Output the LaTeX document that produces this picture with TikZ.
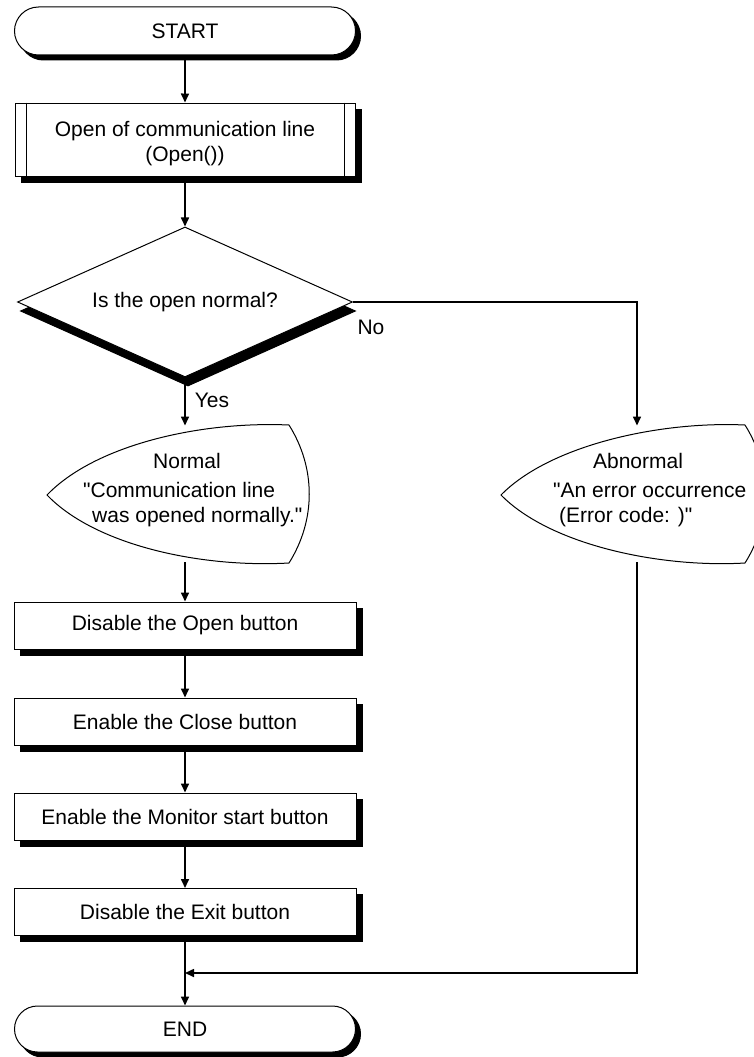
\documentclass[tikz,border=0pt]{standalone}
\usepackage{fontspec}
\setmainfont{Liberation Sans}[Ligatures=TeXOff]
\usetikzlibrary{arrows.meta,shapes.geometric,shapes.misc,shadows}
\begin{document}
\begin{tikzpicture}[x=1pt,y=-1pt, font=\fontsize{21}{25}\selectfont,
 shad/.style={copy shadow={shadow xshift=6pt, shadow yshift=-6pt, fill=black, draw=black}},
 box/.style={draw, line width=1pt, fill=white, minimum width=342pt, minimum height=47pt, inner sep=0pt, shad},
 term/.style={draw, line width=1pt, fill=white, rounded rectangle, minimum width=341pt, minimum height=48pt, inner sep=0pt, copy shadow={shadow xshift=5pt, shadow yshift=-5pt, fill=black, draw=black}},
 dec/.style={draw, line width=1pt, fill=white, diamond, aspect=2.23, minimum width=335pt, minimum height=150pt, inner sep=0pt, copy shadow={shadow xshift=3pt, shadow yshift=-9pt, fill=black, draw=black}},
 conn/.style={line width=1.6pt},
 arr/.style={conn, -{Triangle[length=9pt,width=8pt]}},
 disp/.style={draw, line width=1pt, fill=white},
 txt/.style={inner sep=0pt}]
\useasboundingbox (0,0) rectangle (753,1057);

\node[term] (start) at (185,31) {START};
\node[box, minimum width=340pt, minimum height=73pt] (open) at (185,139.5) {};
\node[txt, align=center] (opentxt) at (185,144) {Open of communication line\\(Open())};
\draw[line width=1pt] ([xshift=12pt]open.north west) -- ([xshift=12pt]open.south west);
\draw[line width=1pt] ([xshift=-11pt]open.north east) -- ([xshift=-11pt]open.south east);

\node[dec] (dia) at (185,302) {Is the open normal?};

% Normal display
\draw[disp] (289,425) .. controls (200,421) and (95,445) .. (47,495) .. controls (95,545) and (200,568) .. (289,563) .. controls (316,520) and (316,468) .. (289,425) -- cycle;
\coordinate (nTop) at (185,425.5);
\coordinate (nBot) at (185,562);
\node[txt] (normalhd) at (187,461) {Normal};
\node[txt, align=left, anchor=west] (normaltxt) at (83,504.5) {"Communication line\\\hspace*{9pt}was opened normally."};

% Abnormal display
\draw[disp] (745,425) .. controls (660,421) and (550,445) .. (501,495) .. controls (550,545) and (660,568) .. (745,563) .. controls (772,520) and (772,468) .. (745,425) -- cycle;
\coordinate (aTop) at (637,425.5);
\coordinate (aBot) at (637,562);
\node[txt] (abhd) at (638,461) {Abnormal};
\node[txt, align=left, anchor=west] (abtxt) at (553,504.5) {"An error occurrence\\\hspace*{6pt}(Error code: )"};

\node[box] (b1) at (185,625.5) {Disable the Open button};
\node[box] (b2) at (185,721.5) {Enable the Close button};
\node[box] (b3) at (185,816.5) {Enable the Monitor start button};
\node[box] (b4) at (185,912) {Disable the Exit button};
\node[term, minimum height=46pt] (endn) at (185,1029) {END};

\node[txt] (no) at (371,327) {No};
\node[txt] (yes) at (212,400) {Yes};
\coordinate (merge) at (185,973);

\draw[arr] (start) -- (open);
\draw[arr] (open) -- (dia);
\draw[arr] (dia.south) -- (nTop);
\draw[arr] (dia.east) -| (aTop);
\draw[arr] (nBot) -- (b1);
\draw[arr] (b1) -- (b2);
\draw[arr] (b2) -- (b3);
\draw[arr] (b3) -- (b4);
\draw[arr] (b4) -- (endn);
\draw[arr] (aBot) |- (merge);
\end{tikzpicture}
\end{document}
